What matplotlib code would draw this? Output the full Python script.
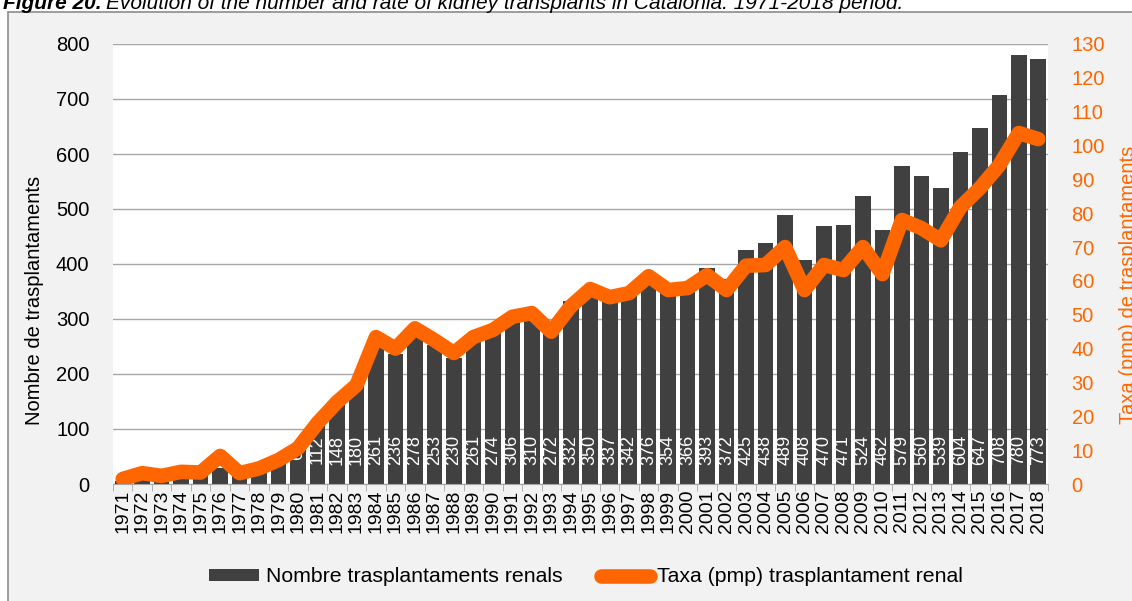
import matplotlib
matplotlib.use("Agg")
import matplotlib.pyplot as plt
from matplotlib.patches import Rectangle
import numpy as np

plt.rcParams['font.family'] = ['Liberation Sans', 'DejaVu Sans']

years = list(range(1971, 2019))
n_trasplant = [5, 15, 11, 17, 18, 30, 22, 26, 40, 62,
               112, 148, 180, 261, 236, 278, 253, 230, 261, 274,
               306, 310, 272, 332, 350, 337, 342, 376, 354, 366,
               393, 372, 425, 438, 489, 408, 470, 471, 524, 462,
               579, 560, 539, 604, 647, 708, 780, 773]
taxa_pmp = [1.5, 3.2, 2.4, 3.6, 3.4, 8.3, 3.2, 4.6, 7.1, 10.6,
            18.0, 24.2, 29.2, 43.4, 40.0, 46.0, 42.5, 38.7, 43.4, 45.5,
            49.4, 50.5, 45.0, 52.5, 57.6, 55.2, 56.4, 61.4, 57.3, 57.9,
            61.7, 57.3, 64.5, 64.7, 70.0, 57.3, 64.7, 63.2, 70.0, 62.0,
            78.0, 75.6, 72.0, 81.8, 87.4, 94.2, 103.7, 101.9]

W, H = 1132, 601
fig = plt.figure(figsize=(W / 100, H / 100), dpi=100)
fig.patch.set_facecolor('white')

# chart frame (grey box, cut at the right and bottom edges)
frame = Rectangle((7.5 / W, -0.1), 1.2, 1 - 12.3 / H + 0.1,
                  transform=fig.transFigure, facecolor='#f2f2f2',
                  edgecolor='#8c8c8c', lw=1.2, zorder=-10)
fig.patches.append(frame)

t1 = fig.text(3 / W, 1 - 9 / H, 'Figure 20.', fontsize=15, style='italic',
              weight='bold', va='baseline', ha='left')
fig.canvas.draw()
bb = t1.get_window_extent()
fig.text((bb.x1 + 4) / W, 1 - 9 / H,
         'Evolution of the number and rate of kidney transplants in Catalonia. 1971-2018 period.',
         fontsize=15, style='italic', va='baseline', ha='left')

ax = fig.add_axes([113 / W, 1 - 484 / H, 935 / W, 440 / H])
ax.set_facecolor('white')
x = np.arange(len(years))

ax.bar(x, n_trasplant, width=0.8, color='#404040', zorder=2,
       label='Nombre trasplantaments renals')
for xi, v in zip(x, n_trasplant):
    ax.annotate(str(v), (xi, 0), xytext=(0, 24.5), textcoords='offset points',
                rotation=90, ha='center', va='center', color='white',
                fontsize=13, zorder=3)

ax.set_xlim(-0.5, len(years) - 0.5)
ax.set_ylim(0, 800)
ax.set_yticks(range(0, 801, 100))
ax.grid(axis='y', color='#a6a6a6', lw=1, zorder=1)
ax.set_xticks(x)
ax.set_xticklabels([str(y) for y in years], rotation=90, fontsize=14)
ax.set_xticks(np.arange(-0.5, len(years), 1), minor=True)
ax.tick_params(axis='x', which='major', length=0, pad=4)
ax.tick_params(axis='x', which='minor', length=5, color='#a6a6a6')
ax.tick_params(axis='y', length=0, pad=17, labelsize=14.5)
for s in ['left', 'right', 'top']:
    ax.spines[s].set_visible(False)
ax.spines['bottom'].set_color('#a6a6a6')

ax2 = ax.twinx()
ax2.plot(x, taxa_pmp, color='#ff6600', lw=10.5, solid_joinstyle='round',
         solid_capstyle='round', label='Taxa (pmp) trasplantament renal', zorder=4)
ax2.set_ylim(0, 130)
ax2.set_yticks(range(0, 131, 10))
ax2.tick_params(axis='y', length=0, pad=17, labelsize=14.5, labelcolor='#ff6600')
for s in ax2.spines.values():
    s.set_visible(False)

fig.text(35 / W, 1 - 300 / H, 'Nombre de trasplantaments', rotation=90,
         fontsize=14.5, ha='center', va='center')
fig.text(1129 / W, 1 - 285 / H, 'Taxa (pmp) de trasplantaments', rotation=90,
         fontsize=14.5, ha='center', va='center', color='#ff6600')

h1, l1 = ax.get_legend_handles_labels()
h2, l2 = ax2.get_legend_handles_labels()
fig.legend(h1 + h2, l1 + l2, loc='center', bbox_to_anchor=(586 / W, 1 - 577 / H),
           ncol=2, frameon=False, fontsize=15.3, handlelength=2.35,
           handletextpad=0.33, columnspacing=1.8, handleheight=0.55)

fig.savefig('out.png', dpi=100, facecolor=fig.get_facecolor())
